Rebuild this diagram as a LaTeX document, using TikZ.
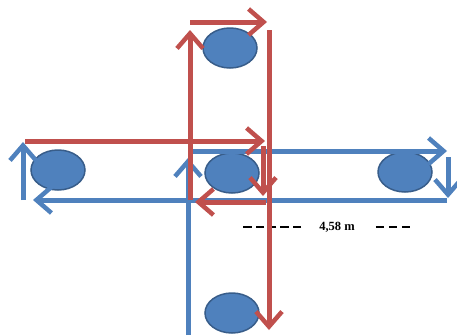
\documentclass[tikz,border=0pt]{standalone}
\usepackage{fontspec}
\setmainfont{Liberation Serif}
\usetikzlibrary{arrows.meta,shapes.geometric}
\definecolor{redl}{RGB}{192,80,77}
\definecolor{bluel}{RGB}{79,129,189}
\definecolor{blued}{RGB}{56,93,138}
\begin{document}
\begin{tikzpicture}[x=1pt,y=-1pt,
  arr/.style={line width=5pt,-{Straight Barb[length=15pt,width=26pt,line width=4.5pt]}},
  rarr/.style={arr,draw=redl},
  barr/.style={arr,draw=bluel},
  disc/.style={ellipse,fill=bluel,draw=blued,line width=1.5pt,minimum width=54pt,minimum height=40pt,inner sep=0pt},
  dimline/.style={line width=2.8pt,draw=black}]
\useasboundingbox (0,0) rectangle (457,335);
% discs
\node[disc] (e1) at (230,48) {};
\node[disc] (e2) at (58,170) {};
\node[disc] (e3) at (232,173) {};
\node[disc] (e4) at (405,172) {};
\node[disc] (e5) at (232,313) {};
% blue path coordinates
\coordinate (b1) at (190,151); \coordinate (b2) at (447,151);
\coordinate (b3) at (448,157); \coordinate (b4) at (448,198);
\coordinate (b5) at (447,200); \coordinate (b6) at (33,200);
\coordinate (b7) at (23,200);  \coordinate (b8) at (23,142);
\coordinate (b9) at (188,335); \coordinate (b10) at (188,158);
% red path coordinates
\coordinate (r1) at (190,200); \coordinate (r2) at (190,30);
\coordinate (r3) at (190,22);  \coordinate (r4) at (267,22);
\coordinate (r5) at (269,30);  \coordinate (r6) at (269,330);
\coordinate (r7) at (25,141);  \coordinate (r8) at (265,141);
\coordinate (r9) at (263,146); \coordinate (r10) at (263,196);
\coordinate (r11) at (266,202); \coordinate (r12) at (195,202);
% blue arrows
\draw[barr] (b1) -- (b2);
\draw[barr] (b3) -- (b4);
\draw[barr] (b5) -- (b6);
\draw[barr] (b7) -- (b8);
\draw[barr] (b9) -- (b10);
% dimension
\node[font=\bfseries\fontsize{12.5}{14}\selectfont,inner sep=1pt] (lbl) at (337,227) {4,58 m};
\draw[dimline,dash pattern=on 8.5pt off 3.8pt] ([xshift=-17pt]lbl.west) -- ++(-58,0);
\draw[dimline,dash pattern=on 8.5pt off 4.5pt] ([xshift=20pt]lbl.east) -- ++(35,0);
% red arrows
\draw[rarr] (r1) -- (r2);
\draw[rarr] (r3) -- (r4);
\draw[rarr] (r5) -- (r6);
\draw[rarr] (r7) -- (r8);
\draw[rarr] (r9) -- (r10);
\draw[rarr] (r11) -- (r12);
\end{tikzpicture}
\end{document}
